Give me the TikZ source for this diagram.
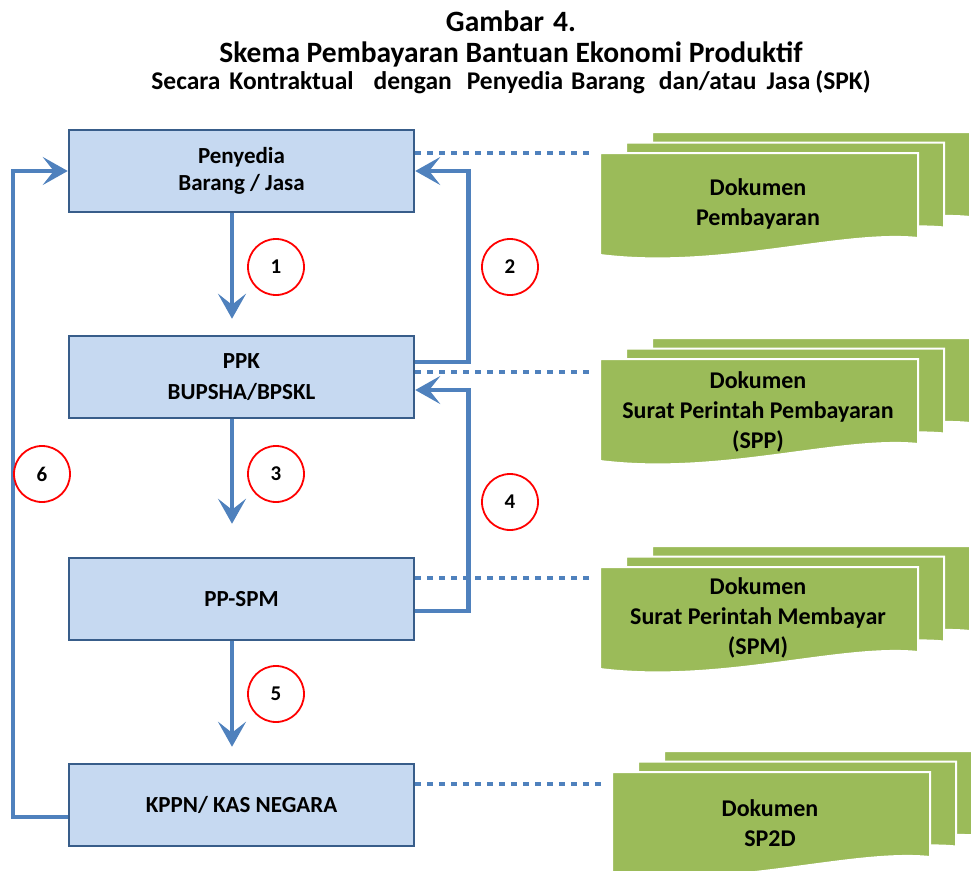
\documentclass[tikz,border=0pt]{standalone}
\usepackage{fontspec}
\setmainfont{Carlito}
\usetikzlibrary{arrows.meta,calc}
\definecolor{boxfill}{HTML}{C6D9F1}
\definecolor{boxline}{HTML}{385D8A}
\definecolor{flowblue}{HTML}{4F81BD}
\definecolor{docgreen}{HTML}{9BBB59}
\definecolor{markred}{HTML}{FF0000}
\tikzset{
  procbox/.style={draw=boxline, line width=2.5pt, fill=boxfill,
    minimum width=345pt, minimum height=82pt, inner sep=0pt, align=center,
    font=\bfseries\fontsize{23}{27.5}\selectfont},
  flow/.style={draw=flowblue, line width=4.5pt,
    -{Stealth[length=25pt,width=28pt,inset=11pt]}},
  dotline/.style={draw=flowblue, line width=4pt, dash pattern=on 6pt off 6pt,
    shorten >=9pt},
  numcirc/.style={circle, draw=markred, line width=1.8pt, minimum size=56pt,
    inner sep=0pt, font=\bfseries\fontsize{21}{21}\selectfont},
  docpage/.style={fill=docgreen, draw=white, line width=2pt},
  doctext/.style={align=center, font=\bfseries\fontsize{24}{30}\selectfont},
  titletext/.style={anchor=base, font=\bfseries\fontsize{29.5}{30}\selectfont},
  subtitletext/.style={anchor=base, font=\bfseries\fontsize{25.5}{26}\selectfont},
  % three stacked pages with a wavy lower edge on the front one
  docstack/.pic={
    \foreach \k in {2,1,0}{
      \path[docpage,shift={(26*\k,-10.5*\k)}]
        (0,0) -- (318,0) -- (318,85)
        .. controls (240,77) and (120,117) .. (0,102) -- cycle;
    }
  }
}
\begin{document}
\begin{tikzpicture}[x=1pt,y=-1pt]
\useasboundingbox (0,0) rectangle (971,870);

% titles
\node[titletext] (title1) at (511,31) {Gambar\hspace{9pt}4.};
\node[titletext] (title2) at (511,62) {Skema Pembayaran Bantuan Ekonomi Produktif};
\node[subtitletext] (title3) at (511,89) {Secara\hspace{9pt}Kontraktual\hspace{20pt}dengan\hspace{15pt}Penyedia\hspace{8pt}Barang\hspace{14pt}dan/atau\hspace{10pt}Jasa\hspace{5pt}(SPK)};

% process boxes
\node[procbox] (b1) at (241.5,171) {Penyedia\\Barang / Jasa};
\node[procbox] (b2) at (241.5,377) {PPK\\[3.5pt]BUPSHA/BPSKL};
\node[procbox] (b3) at (241.5,599) {PP-SPM};
\node[procbox] (b4) at (241.5,805) {KPPN/ KAS NEGARA};

% document stacks
\coordinate (d1) at (600,153);
\coordinate (d2) at (600,359);
\coordinate (d3) at (600,567);
\coordinate (d4) at (612,772);
\pic at (d1) {docstack};
\pic at (d2) {docstack};
\pic at (d3) {docstack};
\pic at (d4) {docstack};
\node[doctext] (t1) at ($(d1)+(158,51)$) {Dokumen\\Pembayaran};
\node[doctext] (t2) at ($(d2)+(158,53)$) {Dokumen\\Surat Perintah Pembayaran\\(SPP)};
\node[doctext] (t3) at ($(d3)+(158,51)$) {Dokumen\\Surat Perintah Membayar\\(SPM)};
\node[doctext] (t4) at ($(d4)+(158,51)$) {Dokumen\\SP2D};

% dotted links from boxes to documents
\coordinate (p1) at ([yshift=18pt]b1.east);
\coordinate (p2) at ([yshift=5pt]b2.east);
\coordinate (p3) at ([yshift=21pt]b3.east);
\coordinate (p4) at ([yshift=21pt]b4.east);
\draw[dotline] (p1) -- (p1 -| d1);
\draw[dotline] (p2) -- (p2 -| d2);
\draw[dotline] (p3) -- (p3 -| d3);
\draw[dotline] (p4) -- (p4 -| d4);

% main downward flow
\draw[flow, shorten >=16pt] ([xshift=-9.5pt]b1.south) -- ([xshift=-9.5pt]b2.north);
\draw[flow, shorten >=33pt] ([xshift=-9.5pt]b2.south) -- ([xshift=-9.5pt]b3.north);
\draw[flow, shorten >=16pt] ([xshift=-9.5pt]b3.south) -- ([xshift=-9.5pt]b4.north);

% return loops
\draw[flow] ([yshift=15pt]b2.east) -- ++(53,0) |- (b1.east);
\draw[flow] ([yshift=-12pt]b3.east) -- ++(53,0) |- ([yshift=-13pt]b2.east);
\draw[flow] ([yshift=-12pt]b4.west) -- ++(-55,0) |- (b1.west);

% step numbers
\node[numcirc] (c1) at (276,267) {1};
\node[numcirc] (c2) at (510,267) {2};
\node[numcirc] (c3) at (276,474) {3};
\node[numcirc] (c4) at (510,502) {4};
\node[numcirc] (c5) at (276,694) {5};
\node[numcirc] (c6) at (42,474) {6};
\end{tikzpicture}
\end{document}
